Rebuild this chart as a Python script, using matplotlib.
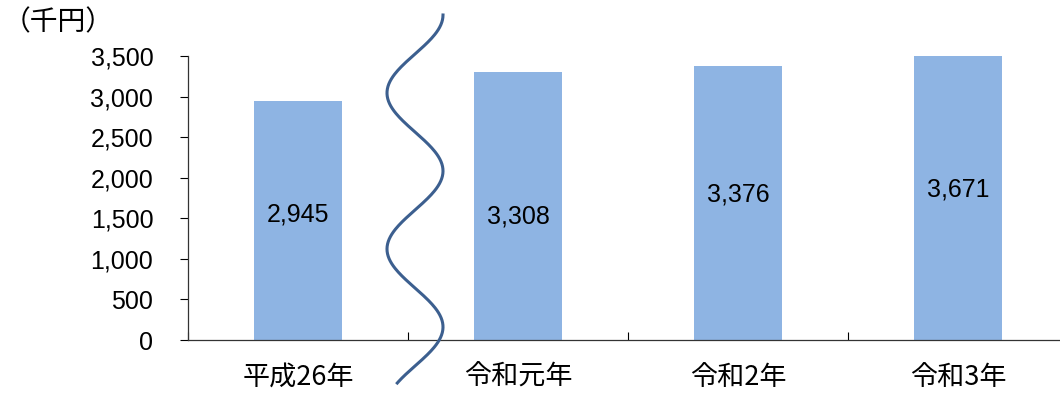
import numpy as np
import matplotlib
matplotlib.use('Agg')
import matplotlib.pyplot as plt
from matplotlib.lines import Line2D

categories = ['平成26年', '令和元年', '令和2年', '令和3年']
values = [2945, 3308, 3376, 3671]
value_labels = ['2,945', '3,308', '3,376', '3,671']
label_y = [1545, 1520, 1790, 1850]
yticks = [0, 500, 1000, 1500, 2000, 2500, 3000, 3500]

W, H = 1060, 393
fig = plt.figure(figsize=(W / 100, H / 100), dpi=100)
# axes spans 188..1068 px horizontally (runs off the right edge), 56..340 px vertically
ax = fig.add_axes([188 / W, 1 - 340 / H, 880 / W, 284 / H])

bar_color = '#8eb4e3'
x = np.arange(len(categories))
ax.bar(x, values, width=0.4, color=bar_color, zorder=2)
ax.set_xlim(-0.5, len(categories) - 0.5)
ax.set_ylim(0, 3500)

num_font = ['Liberation Sans', 'Noto Sans CJK JP']
jp_font = ['Noto Sans CJK JP', 'DejaVu Sans']

for xi, lab, ly in zip(x, value_labels, label_y):
    ax.text(xi, ly, lab, ha='center', va='center', fontsize=18, family=num_font, color='black', zorder=3)

ax.set_yticks(yticks)
ax.set_yticklabels([f'{v:,}' for v in yticks], family=num_font, fontsize=18)
ax.tick_params(axis='y', direction='out', length=6, width=0.8, pad=19, colors='black')

# category boundaries as major ticks, category names on minor ticks
ax.set_xticks(np.arange(-0.5, len(categories), 1.0))
ax.set_xticklabels([])
ax.tick_params(axis='x', which='major', direction='in', length=6, width=0.8)
ax.set_xticks(x, minor=True)
ax.set_xticklabels(categories, minor=True, family=jp_font, fontsize=19.5)
ax.tick_params(axis='x', which='minor', length=0, pad=17)

for s in ['top', 'right']:
    ax.spines[s].set_visible(False)
for s in ['left', 'bottom']:
    ax.spines[s].set_linewidth(0.9)
    ax.spines[s].set_color('#333333')

fig.text(3 / W, 1 - 22 / H, '（千円）', family=jp_font, fontsize=20, va='center', ha='left')

# wavy break mark between first and second category
yy = np.linspace(15, 383, 300)
xx = 415 + 28 * np.cos(np.pi * (yy - 15) / 78)
fig.add_artist(Line2D(xx / W, 1 - yy / H, transform=fig.transFigure, color='#3c5f8f', lw=2.2))

fig.savefig('out.png', dpi=100)
